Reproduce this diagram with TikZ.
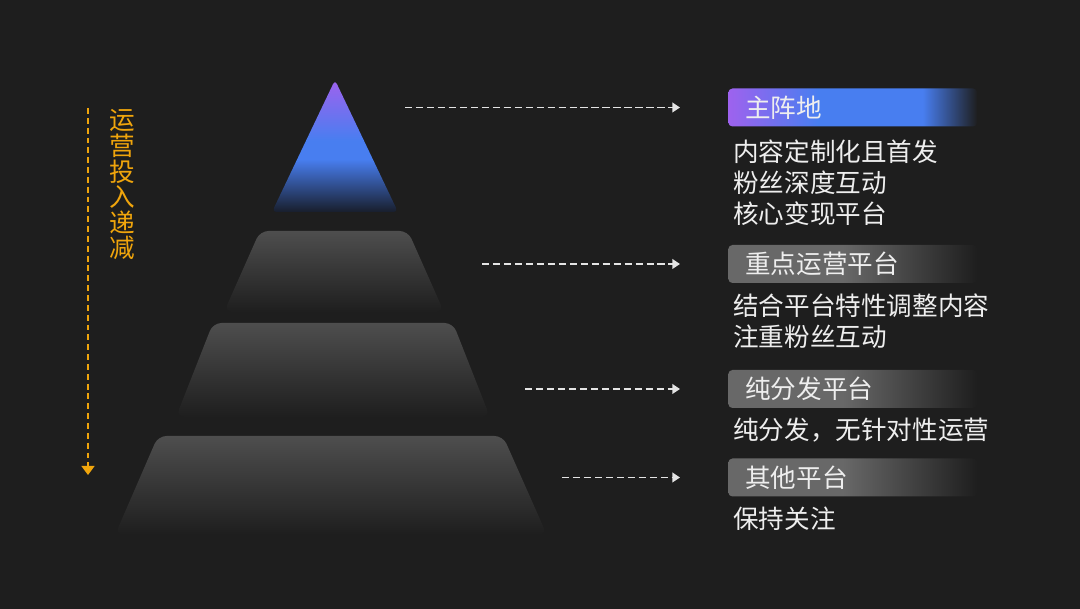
\documentclass[tikz,border=0pt]{standalone}
\usepackage{fontspec}
\setmainfont{Noto Sans CJK SC}
\usepackage{tikz}
\usetikzlibrary{arrows.meta, positioning, calc}
\definecolor{bgdark}{RGB}{30,30,30}
\definecolor{tiertop}{RGB}{78,78,78}
\definecolor{mainpurple}{RGB}{158,98,238}
\definecolor{mainblue}{RGB}{72,126,240}
\definecolor{apexdark}{RGB}{24,30,44}
\definecolor{labelgray}{RGB}{104,104,104}
\definecolor{inputorange}{RGB}{240,165,12}
\definecolor{flowwhite}{RGB}{228,228,228}
\definecolor{textwhite}{RGB}{238,238,238}
\pgfdeclareverticalshading{apexshade}{100bp}{color(0bp)=(apexdark); color(25bp)=(apexdark); color(45bp)=(mainblue); color(52bp)=(mainblue); color(75bp)=(mainpurple); color(100bp)=(mainpurple)}
\pgfdeclarehorizontalshading{mainlabel}{100bp}{color(0bp)=(mainpurple); color(25bp)=(mainpurple); color(43bp)=(mainblue); color(64bp)=(mainblue); color(75bp)=(bgdark); color(100bp)=(bgdark)}
\pgfdeclarehorizontalshading{sublabel}{100bp}{color(0bp)=(labelgray); color(25bp)=(labelgray); color(48bp)=(labelgray); color(75bp)=(bgdark); color(100bp)=(bgdark)}

\begin{document}
\begin{tikzpicture}[x=0.025cm, y=0.025cm,
  tier/.style={top color=tiertop, bottom color=bgdark, rounded corners=6pt},
  labelbox/.style={anchor=west, rounded corners=3pt, minimum height=0.95cm, text width=5.375cm, inner xsep=0.425cm, inner ysep=0pt, align=left, text=textwhite, font=\fontsize{18.2}{22}\selectfont},
  desc/.style={anchor=west, inner sep=0pt, align=left, text=textwhite, font=\fontsize{18.2}{22}\selectfont},
  flow/.style={-{Triangle[length=0.19cm, width=0.24cm]}, flowwhite, line width=1.4pt, dash pattern=on 5.2pt off 2.6pt, shorten >=1.2cm}]
\fill[bgdark] (0,0) rectangle (1080,609);

\shade[shading=apexshade, rounded corners=3pt] (272,397) -- (335,529) -- (398,397) -- cycle;
\shade[tier] (224,297) -- (260,378) -- (408,378) -- (444,297) -- cycle;
\shade[tier] (176,192) -- (213,286) -- (453,286) -- (490,192) -- cycle;
\shade[tier] (115,74) -- (158,173) -- (503,173) -- (547,74) -- cycle;

\coordinate (cutstart) at (88,501);
\coordinate (cutend) at (88,134);
\draw[-{Triangle[length=0.225cm, width=0.325cm]}, inputorange, line width=1pt, dash pattern=on 4.2pt off 2.8pt] (cutstart) -- (cutend);
\node[text=inputorange, align=center, inner sep=0pt, font=\fontsize{18.2}{18.2}\selectfont] (cuttext) at (122,424) {运\\营\\投\\入\\递\\减};

\node[labelbox, shading=mainlabel] (lab1) at (728,501.5) {主阵地};
\node[labelbox, shading=sublabel] (lab2) at (728,345) {重点运营平台};
\node[labelbox, shading=sublabel] (lab3) at (728,220) {纯分发平台};
\node[labelbox, shading=sublabel] (lab4) at (728,131.5) {其他平台};

\node[desc] (desc1) at (733,426) {内容定制化且首发\\粉丝深度互动\\核心变现平台};
\node[desc] (desc2) at (733,288) {结合平台特性调整内容\\注重粉丝互动};
\node[desc] (desc3) at (733,179) {纯分发，无针对性运营};
\node[desc] (desc4) at (733,90) {保持关注};

\coordinate (start1) at (405,501.5);
\coordinate (start2) at (482,345);
\coordinate (start3) at (525,220);
\coordinate (start4) at (562,131.5);
\draw[flow] (start1) -- (lab1.west);
\draw[flow] (start2) -- (lab2.west);
\draw[flow] (start3) -- (lab3.west);
\draw[flow] (start4) -- (lab4.west);
\end{tikzpicture}
\end{document}
